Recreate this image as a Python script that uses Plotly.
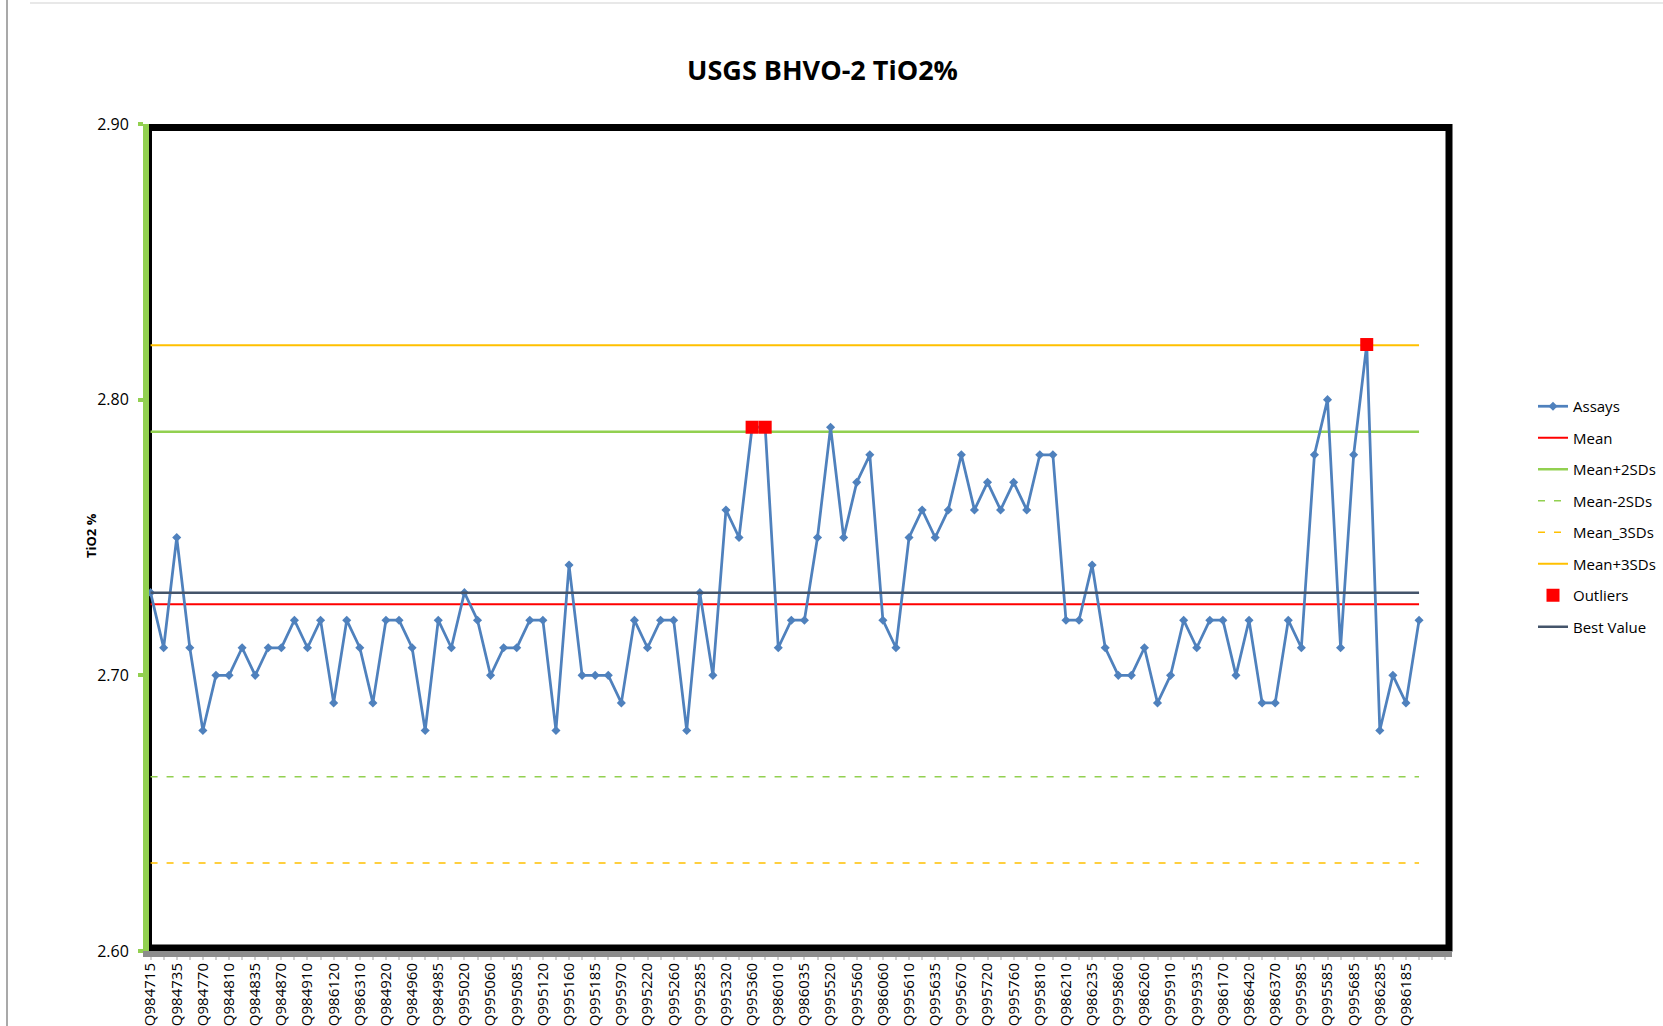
import plotly.graph_objects as go

# ---- data ----
tick_labels = [
    "Q984715", "Q984735", "Q984770", "Q984810", "Q984835", "Q984870", "Q984910",
    "Q986120", "Q986310", "Q984920", "Q984960", "Q984985", "Q995020", "Q995060",
    "Q995085", "Q995120", "Q995160", "Q995185", "Q995970", "Q995220", "Q995260",
    "Q995285", "Q995320", "Q995360", "Q986010", "Q986035", "Q995520", "Q995560",
    "Q986060", "Q995610", "Q995635", "Q995670", "Q995720", "Q995760", "Q995810",
    "Q986210", "Q986235", "Q995860", "Q986260", "Q995910", "Q995935", "Q986170",
    "Q986420", "Q986370", "Q995985", "Q995585", "Q995685", "Q986285", "Q986185",
]

assays = [
    2.73, 2.71, 2.75, 2.71, 2.68, 2.70, 2.70, 2.71, 2.70, 2.71,
    2.71, 2.72, 2.71, 2.72, 2.69, 2.72, 2.71, 2.69, 2.72, 2.72,
    2.71, 2.68, 2.72, 2.71, 2.73, 2.72, 2.70, 2.71, 2.71, 2.72,
    2.72, 2.68, 2.74, 2.70, 2.70, 2.70, 2.69, 2.72, 2.71, 2.72,
    2.72, 2.68, 2.73, 2.70, 2.76, 2.75, 2.79, 2.79, 2.71, 2.72,
    2.72, 2.75, 2.79, 2.75, 2.77, 2.78, 2.72, 2.71, 2.75, 2.76,
    2.75, 2.76, 2.78, 2.76, 2.77, 2.76, 2.77, 2.76, 2.78, 2.78,
    2.72, 2.72, 2.74, 2.71, 2.70, 2.70, 2.71, 2.69, 2.70, 2.72,
    2.71, 2.72, 2.72, 2.70, 2.72, 2.69, 2.69, 2.72, 2.71, 2.78,
    2.80, 2.71, 2.78, 2.82, 2.68, 2.70, 2.69, 2.72,
]

outlier_index = [46, 47, 93]
outlier_value = [2.79, 2.79, 2.82]

mean_value = 2.7258
mean_plus_2sd = 2.7884
mean_minus_2sd = 2.6632
mean_minus_3sd = 2.6319
mean_plus_3sd = 2.8197
best_value = 2.730

y_ticks = [2.60, 2.70, 2.80, 2.90]

# ---- figure ----
n = len(assays)
x = list(range(n))
outliers = [None] * n
for i, v in zip(outlier_index, outlier_value):
    outliers[i] = v

FONT = "Open Sans"
fig = go.Figure()


def const_line(name, val, color, width, dash="solid", rank=1):
    fig.add_trace(go.Scatter(
        x=x, y=[val] * n, mode="lines", name=name,
        line=dict(color=color, width=width, dash=dash),
        legendgroup=name, legendrank=rank, hoverinfo="skip",
    ))


const_line("Mean", mean_value, "#FF0000", 2, rank=2)
const_line("Mean+2SDs", mean_plus_2sd, "#92D050", 2.5, rank=3)
const_line("Mean-2SDs", mean_minus_2sd, "#92D050", 1.5, dash="7px,9px", rank=4)
const_line("Mean_3SDs", mean_minus_3sd, "#FFC000", 1.5, dash="7px,9px", rank=5)
const_line("Mean+3SDs", mean_plus_3sd, "#FFC000", 2, rank=6)

fig.add_trace(go.Scatter(
    x=x, y=assays, mode="lines+markers", name="Assays",
    line=dict(color="#4F81BD", width=2.75),
    marker=dict(symbol="diamond", size=7, color="#4F81BD"),
    legendgroup="Assays", legendrank=1,
))

const_line("Best Value", best_value, "#44546A", 2.5, rank=8)

fig.add_trace(go.Scatter(
    x=x, y=outliers, mode="markers", name="Outliers",
    marker=dict(symbol="square", size=13, color="#FF0000"),
    legendgroup="Outliers", legendrank=7,
))

W, H = 1663, 1026
L, R, T, B = 149, 211, 124, 75
pw, ph = W - L - R, H - T - B


def px_x(p):
    return (p - L) / pw


def px_y(p):
    return (H - B - p) / ph


# black plot-area frame
fig.add_shape(type="rect", xref="paper", yref="paper",
              x0=px_x(148.5), x1=px_x(1449), y0=px_y(948), y1=px_y(127.5),
              line=dict(color="black", width=7), layer="below")
# outer chart frame remnants
fig.add_shape(type="line", xref="paper", yref="paper",
              x0=px_x(7), x1=px_x(7), y0=px_y(0), y1=px_y(H),
              line=dict(color="#8c8c8c", width=1.5))
fig.add_shape(type="line", xref="paper", yref="paper",
              x0=px_x(30), x1=px_x(W), y0=px_y(3), y1=px_y(3),
              line=dict(color="#e0e0e0", width=1.5))

fig.add_annotation(text="<b>TiO2 %</b>", xref="paper", yref="paper",
                   x=px_x(80), y=px_y(536), showarrow=False, textangle=-90,
                   font=dict(family=FONT, size=13, color="black"))

fig.update_layout(
    width=W, height=H,
    margin=dict(l=L, r=R, t=T, b=B, autoexpand=False),
    paper_bgcolor="white", plot_bgcolor="white",
    title=dict(text="<b>USGS BHVO-2 TiO2%</b>", x=px_x(822.5), xref="paper",
               xanchor="center", y=1 - 71 / H, yanchor="middle",
               font=dict(family=FONT, size=27, color="black")),
    showlegend=True,
    legend=dict(x=px_x(1533), y=px_y(390), xanchor="left", yanchor="top",
                traceorder="grouped", tracegroupgap=9,
                font=dict(family=FONT, size=15, color="black"),
                bgcolor="rgba(0,0,0,0)"),
    xaxis=dict(
        range=[-0.12, 99.52], tickmode="array",
        tickvals=list(range(0, 2 * len(tick_labels), 2)), ticktext=tick_labels,
        tickangle=-90, tickfont=dict(family=FONT, size=15, color="black"),
        showgrid=False, zeroline=False, showline=True, linecolor="#8c8c8c",
        linewidth=6, ticks="", automargin=False,
        minor=dict(dtick=1, tick0=0, ticks="outside", ticklen=3,
                   tickcolor="#d0d0d0", tickwidth=1.5, showgrid=False),
    ),
    yaxis=dict(
        range=[2.6, 2.9], tickmode="array", tickvals=y_ticks,
        ticktext=[f"{v:.2f}" for v in y_ticks],
        tickfont=dict(family=FONT, size=16, color="black"),
        showgrid=False, zeroline=False, showline=True, linecolor="#92D050",
        linewidth=6, ticks="outside", ticklen=5, tickwidth=4,
        tickcolor="#92D050", automargin=False, ticklabelstandoff=6,
    ),
)

fig.write_html("out.html",
               config={"displayModeBar": False},
               post_script="document.body.style.margin='0';"
                           "document.body.style.padding='0';")
